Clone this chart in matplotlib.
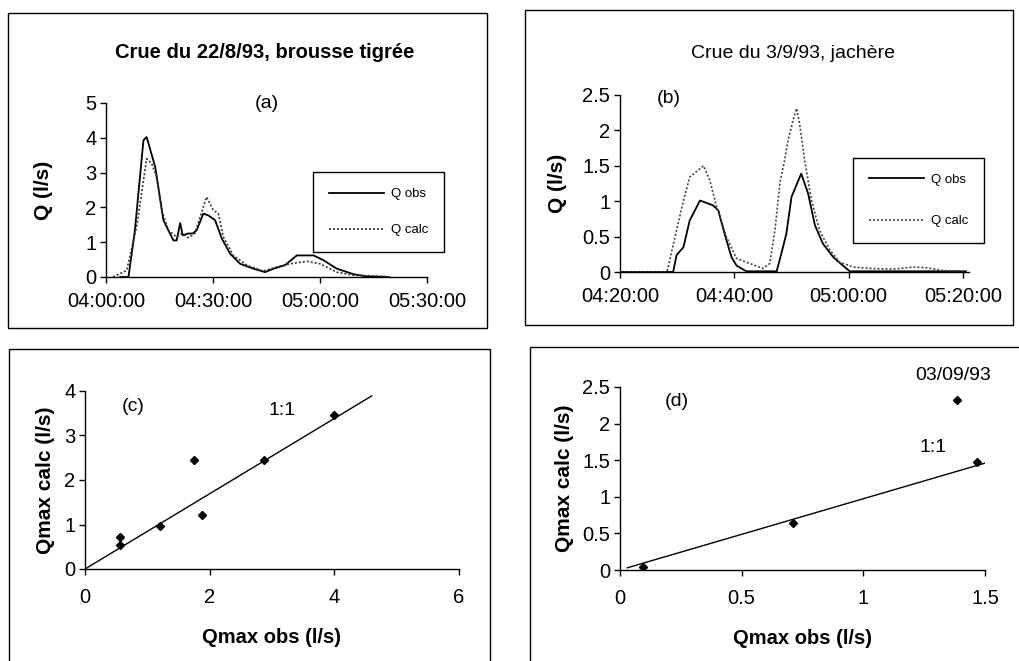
import numpy as np
import matplotlib
matplotlib.use('Agg')
import matplotlib.pyplot as plt
from matplotlib.patches import Rectangle

plt.rcParams['font.family'] = ['Liberation Sans', 'DejaVu Sans']

# (a) crue du 22/8/93 - minutes after 04:00
t_obs_a = [4.0, 6.3, 8.1, 10.5, 11.4, 13.8, 16.1, 18.9, 19.8, 20.8, 21.5, 23.1, 24.3, 25.4, 27.3, 28.7,
           30.6, 32.5, 34.8, 37.6, 41.3, 44.6, 47.0, 50.2, 53.5, 58.2, 61.0, 64.7, 69.4, 73.0, 78.8]
q_obs_a = [0, 0, 1.34, 3.93, 4.02, 3.16, 1.63, 1.05, 1.05, 1.55, 1.2, 1.25, 1.25, 1.34, 1.82, 1.77,
           1.63, 1.1, 0.67, 0.38, 0.24, 0.14, 0.24, 0.34, 0.62, 0.62, 0.48, 0.24, 0.08, 0.02, 0]
t_calc_a = [2.0, 5.8, 8.6, 11.4, 12.8, 14.2, 15.6, 17.5, 19.8, 21.2, 23.1, 24.9, 28.2, 30.1, 31.5,
            32.9, 35.7, 39.5, 44.1, 47.9, 51.6, 56.3, 60.0, 64.7, 69.4, 77.8, 80.0]
q_calc_a = [0, 0.19, 1.44, 3.4, 3.26, 2.87, 1.92, 1.34, 1.15, 1.25, 1.13, 1.25, 2.3, 1.92, 1.82,
            1.15, 0.62, 0.34, 0.17, 0.29, 0.38, 0.45, 0.38, 0.14, 0.05, 0.02, 0]
ticks_a = ['04:00:00', '04:30:00', '05:00:00', '05:30:00']

# (b) crue du 3/9/93 - minutes after 04:20
t_obs_b = [0, 9.3, 9.9, 11.1, 12.2, 14.0, 16.3, 17.2, 18.3, 19.5, 20.4, 22.1, 27.4, 28.0, 29.1, 30.0,
           31.7, 32.9, 34.1, 35.5, 37.3, 39.0, 40.2, 60.5]
q_obs_b = [0, 0, 0.24, 0.35, 0.73, 1.01, 0.94, 0.87, 0.54, 0.21, 0.09, 0.01, 0.01, 0.19, 0.54, 1.06,
           1.39, 1.11, 0.66, 0.4, 0.21, 0.09, 0.01, 0.01]
t_calc_b = [0, 8.2, 8.7, 9.9, 11.1, 12.2, 13.7, 14.6, 15.7, 16.9, 18.6, 20.4, 22.7, 25.0, 26.2, 27.1,
            28.0, 28.8, 29.4, 30.3, 30.9, 31.5, 32.3, 33.5, 34.9, 36.7, 38.4, 40.8, 43.7, 47.8, 51.3,
            53.6, 56.5, 60.6]
q_calc_b = [0, 0, 0.17, 0.59, 1.01, 1.34, 1.44, 1.5, 1.3, 0.92, 0.5, 0.19, 0.12, 0.05, 0.12, 0.59,
            1.27, 1.58, 1.86, 2.15, 2.31, 2.05, 1.58, 1.01, 0.59, 0.31, 0.14, 0.07, 0.05, 0.04, 0.07,
            0.06, 0.02, 0.01]
ticks_b = ['04:20:00', '04:40:00', '05:00:00', '05:20:00']

# (c) Qmax brousse tigree
qmax_obs_c = [0.56, 0.56, 1.21, 1.75, 1.88, 2.87, 4.0]
qmax_calc_c = [0.73, 0.54, 0.97, 2.46, 1.21, 2.46, 3.47]
line_c_x = [0, 4.6]
line_c_y = [0, 3.89]

# (d) Qmax jachere
qmax_obs_d = [0.093, 0.71, 1.386, 1.466]
qmax_calc_d = [0.036, 0.64, 2.32, 1.48]
line_d_x = [0.03, 1.51]
line_d_y = [0.03, 1.47]

W, H = 1020, 661
fig = plt.figure(figsize=(W / 100, H / 100), dpi=100)


def px_axes(l, t, r, b):
    return fig.add_axes([l / W, 1 - b / H, (r - l) / W, (b - t) / H])


def box(l, t, r, b):
    fig.add_artist(Rectangle((l / W, 1 - b / H), (r - l) / W, (b - t) / H, transform=fig.transFigure,
                             fill=False, edgecolor='black', linewidth=1.0))


def style(ax):
    for s in ['top', 'right']:
        ax.spines[s].set_visible(False)
    for s in ['left', 'bottom']:
        ax.spines[s].set_linewidth(1.0)
    ax.tick_params(direction='out', length=4, width=1.0, labelsize=14.5)
    ax.tick_params(axis='y', pad=3)
    ax.patch.set_alpha(0)


def legend(ax, anchor, spacing):
    leg = ax.legend(loc='upper left', bbox_to_anchor=anchor, borderaxespad=0, fontsize=9.5,
                    handlelength=4.2, handletextpad=0.5, labelspacing=spacing, borderpad=1.2,
                    fancybox=False, framealpha=1, edgecolor='black')
    leg.get_frame().set_linewidth(1.0)


box(8, 13, 487, 328)
box(525, 10, 1013, 325)
box(9, 349, 490, 700)
box(530, 347, 1060, 700)

# (a)
ax = px_axes(106, 103, 427, 277)
ax.plot(t_obs_a, q_obs_a, color='black', lw=1.3, label='Q obs')
ax.plot(t_calc_a, q_calc_a, color='#333333', lw=1.2, ls=(0, (1.2, 1.2)), label='Q calc')
ax.set_xlim(0, 90)
ax.set_ylim(0, 5)
ax.set_xticks([0, 30, 60, 90])
ax.set_xticklabels(ticks_a)
ax.set_yticks([0, 1, 2, 3, 4, 5])
style(ax)
ax.tick_params(axis='x', pad=7)
ax.set_ylabel('Q (l/s)', fontsize=15, fontweight='bold', labelpad=23)
ax.text(0.5, 1.0, '(a)', transform=ax.transAxes, ha='center', va='center', fontsize=14)
fig.text(265 / W, 1 - 53 / H, 'Crue du 22/8/93, brousse tigrée', ha='center', va='center',
         fontsize=14.5, fontweight='bold')
legend(ax, (0.645, 0.603), 1.8)

# (b)
ax = px_axes(620, 95, 968.7, 272)
ax.plot(t_obs_b, q_obs_b, color='black', lw=1.3, label='Q obs')
ax.plot(t_calc_b, q_calc_b, color='#444444', lw=1.2, ls=(0, (1.2, 1.2)), label='Q calc')
ax.set_xlim(0, 61)
ax.set_ylim(0, 2.5)
ax.set_xticks([0, 20, 40, 60])
ax.set_xticklabels(ticks_b)
ax.set_yticks([0, 0.5, 1, 1.5, 2, 2.5])
ax.set_yticklabels(['0', '0.5', '1', '1.5', '2', '2.5'])
style(ax)
ax.tick_params(axis='x', pad=7)
ax.set_ylabel('Q (l/s)', fontsize=15, fontweight='bold', labelpad=11)
ax.text(8.5, 2.45, '(b)', ha='center', va='center', fontsize=14)
fig.text(793 / W, 1 - 53 / H, 'Crue du 3/9/93, jachère', ha='center', va='center',
         fontsize=14, family=['Liberation Sans Narrow', 'Liberation Sans'])
legend(ax, (0.668, 0.644), 2.2)

# (c)
ax = px_axes(85, 391, 459, 569)
ax.plot(line_c_x, line_c_y, color='black', lw=1.0)
ax.plot(qmax_obs_c, qmax_calc_c, ls='none', marker='D', ms=4.5, color='black')
ax.set_xlim(0, 6)
ax.set_ylim(0, 4)
ax.set_xticks([0, 2, 4, 6])
ax.set_yticks([0, 1, 2, 3, 4])
style(ax)
ax.tick_params(axis='x', pad=10)
ax.set_xlabel('Qmax obs (l/s)', fontsize=14.5, fontweight='bold', labelpad=15)
ax.set_ylabel('Qmax calc (l/s)', fontsize=15, fontweight='bold', labelpad=6.4)
ax.text(0.78, 3.65, '(c)', ha='center', va='center', fontsize=14)
ax.text(3.16, 3.57, '1:1', ha='center', va='center', fontsize=14)

# (d)
ax = px_axes(620, 387, 985, 570)
ax.plot(line_d_x, line_d_y, color='black', lw=1.0)
ax.plot(qmax_obs_d, qmax_calc_d, ls='none', marker='D', ms=4.5, color='black')
ax.set_xlim(0, 1.5)
ax.set_ylim(0, 2.5)
ax.set_xticks([0, 0.5, 1, 1.5])
ax.set_xticklabels(['0', '0.5', '1', '1.5'])
ax.set_yticks([0, 0.5, 1, 1.5, 2, 2.5])
ax.set_yticklabels(['0', '0.5', '1', '1.5', '2', '2.5'])
style(ax)
ax.tick_params(axis='x', pad=10)
ax.set_xlabel('Qmax obs (l/s)', fontsize=14.5, fontweight='bold', labelpad=15)
ax.set_ylabel('Qmax calc (l/s)', fontsize=15, fontweight='bold', labelpad=6)
ax.text(0.233, 2.3, '(d)', ha='center', va='center', fontsize=14)
ax.text(1.285, 1.67, '1:1', ha='center', va='center', fontsize=14)
ax.text(1.37, 2.66, '03/09/93', ha='center', va='center', fontsize=14, clip_on=False)

fig.savefig('out.png', dpi=100)
